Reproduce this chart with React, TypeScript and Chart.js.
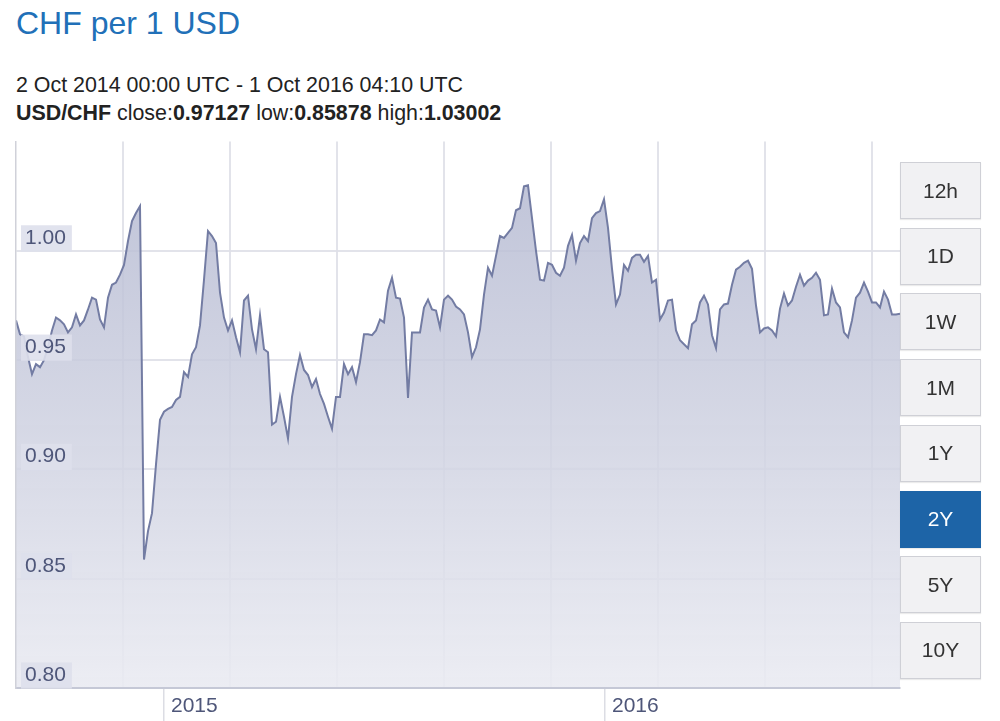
import React, { useEffect, useRef } from "react";
import { Chart, registerables } from "chart.js";

Chart.register(...registerables);

// USD/CHF close, sampled evenly from 2 Oct 2014 to 1 Oct 2016
const rates: number[] = [
  0.9682, 0.9618, 0.9609, 0.9514, 0.9436, 0.9482, 0.9468, 0.95, 0.9559, 0.9636,
  0.9695, 0.9682, 0.9664, 0.9627, 0.965, 0.9709, 0.9659, 0.9682, 0.9732, 0.9786,
  0.9777, 0.9686, 0.965, 0.9786, 0.9845, 0.9855, 0.9891, 0.9936, 1.0045, 1.0136,
  1.0173, 1.0205, 0.85878, 0.8718, 0.88, 0.9023, 0.9227, 0.9264, 0.9277, 0.9286,
  0.9318, 0.9332, 0.9445, 0.9423, 0.9527, 0.9559, 0.9659, 0.9868, 1.0091, 1.0068,
  1.0036, 0.9809, 0.9695, 0.9636, 0.9682, 0.9605, 0.9536, 0.9773, 0.9795, 0.9641,
  0.955, 0.9705, 0.955, 0.9536, 0.9205, 0.9218, 0.9332, 0.9241, 0.9141, 0.9332,
  0.9436, 0.9523, 0.9455, 0.9432, 0.9377, 0.9414, 0.9345, 0.93, 0.9241, 0.9186,
  0.9332, 0.9332, 0.9482, 0.9436, 0.9468, 0.94, 0.9491, 0.9618, 0.9618, 0.9614,
  0.9636, 0.9686, 0.9673, 0.9818, 0.9877, 0.9786, 0.9782, 0.9695, 0.9327, 0.9627,
  0.9627, 0.9627, 0.9741, 0.9777, 0.9732, 0.9727, 0.965, 0.9777, 0.9795, 0.9777,
  0.9745, 0.9732, 0.9709, 0.9627, 0.9514, 0.9559, 0.9641, 0.98, 0.9923, 0.9886,
  0.9977, 1.0068, 1.0059, 1.0082, 1.0105, 1.0186, 1.0195, 1.0295, 1.03002, 1.015,
  1.0, 0.9868, 0.9864, 0.9945, 0.9936, 0.99, 0.9886, 0.9923, 1.0023, 1.0073,
  0.9955, 1.0036, 1.0068, 1.0045, 1.015, 1.0173, 1.0182, 1.0236, 1.0105, 0.9918,
  0.9755, 0.98, 0.9936, 0.9909, 0.9968, 0.9982, 0.9982, 0.995, 0.9977, 0.9855,
  0.9868, 0.9686, 0.9718, 0.9773, 0.9777, 0.9636, 0.9591, 0.9573, 0.9555, 0.9664,
  0.9682, 0.9764, 0.9795, 0.9755, 0.9614, 0.9555, 0.9732, 0.9755, 0.9759, 0.9845,
  0.9914, 0.9927, 0.9945, 0.9955, 0.9918, 0.975, 0.9627, 0.9645, 0.965, 0.9636,
  0.9609, 0.9736, 0.9805, 0.975, 0.9773, 0.9836, 0.9891, 0.9841, 0.9864, 0.9877,
  0.99, 0.9868, 0.9705, 0.9709, 0.9827, 0.9764, 0.9741, 0.9627, 0.9605, 0.9682,
  0.9786, 0.9809, 0.9855, 0.9814, 0.9764, 0.9764, 0.9741, 0.9814, 0.9777, 0.9709,
  0.9709, 0.97127,
];

const yTickValues = [0.8, 0.85, 0.9, 0.95, 1.0];
const yMin = 0.8;
const yMax = 1.05;
const gridStep = 26.75; // spacing of vertical grid lines, in samples
const gridLineCount = 8;
const yearLabels = ["2015", "2016"];
const yearPositions = [37, 147.25]; // sample index of each year tick
const rangeButtons = ["12h", "1D", "1W", "1M", "1Y", "2Y", "5Y", "10Y"];
const activeRange = "2Y";

const FONT = '"Liberation Sans", Arial, Helvetica, sans-serif';
const GRID = "rgba(224,225,232,0.92)";

export default function App() {
  const canvasRef = useRef<HTMLCanvasElement>(null);

  useEffect(() => {
    const canvas = canvasRef.current!;
    const n = rates.length;
    const chart = new Chart(canvas, {
      type: "line",
      data: {
        labels: rates.map((_, i) => i),
        datasets: [
          {
            data: rates.map((v, i) => ({ x: i, y: v })),
            borderColor: "#737ca3",
            borderWidth: 2,
            pointRadius: 0,
            tension: 0,
            fill: "start",
            backgroundColor: (ctx: any) => {
              const { chart } = ctx;
              const area = chart.chartArea;
              if (!area) return "rgba(200,203,220,0.8)";
              const g = chart.ctx.createLinearGradient(0, area.top, 0, area.bottom);
              g.addColorStop(0, "rgba(178,183,208,0.85)");
              g.addColorStop(0.5, "rgba(205,208,224,0.85)");
              g.addColorStop(1, "rgba(234,235,242,0.9)");
              return g;
            },
          },
        ],
      },
      options: {
        animation: false,
        responsive: false,
        maintainAspectRatio: false,
        layout: { padding: { left: 16, top: 17, right: 5, bottom: 0 } },
        plugins: { legend: { display: false }, tooltip: { enabled: false } },
        scales: {
          x: {
            type: "linear",
            min: 0,
            max: n - 1,
            afterBuildTicks: (s: any) => {
              s.ticks = Array.from({ length: gridLineCount }, (_, i) => ({ value: gridStep * (i + 1) }));
            },
            afterFit: (s: any) => {
              s.height = 0;
            },
            ticks: { display: false },
            grid: { color: GRID, lineWidth: 2, drawTicks: false },
            border: { display: false },
          },
          xYear: {
            type: "linear",
            position: "bottom",
            min: 0,
            max: n - 1,
            afterBuildTicks: (s: any) => {
              s.ticks = yearPositions.map((v) => ({ value: v }));
            },
            afterFit: (s: any) => {
              s.height = 33;
            },
            ticks: {
              callback: (_v: any, i: number) => yearLabels[i] ?? "",
              align: "start",
              labelOffset: 7,
              padding: -28,
              maxRotation: 0,
              autoSkip: false,
              color: "#4e5679",
              font: { family: FONT, size: 21 },
              z: 1,
            },
            grid: { drawOnChartArea: false, tickLength: 34, color: "#dcdde4", lineWidth: 1.5 },
            border: { display: true, color: "#c5c8d6", width: 2, z: 1 },
          },
          y: {
            type: "linear",
            min: yMin,
            max: yMax,
            afterBuildTicks: (s: any) => {
              s.ticks = yTickValues.map((v) => ({ value: v }));
            },
            afterFit: (s: any) => {
              s.width = 0;
            },
            ticks: {
              mirror: true,
              padding: 9,
              labelOffset: -13,
              color: "#4e5679",
              font: { family: FONT, size: 21 },
              callback: (v: any) => Number(v).toFixed(2),
              showLabelBackdrop: true,
              backdropColor: "rgba(222,224,236,0.9)",
              backdropPadding: { left: 4, right: 6, top: 0, bottom: 1 },
              z: 2,
            },
            grid: { color: GRID, lineWidth: 2, drawTicks: false },
            border: { display: true, color: "#d0d1d9", width: 1.5, z: 1 },
          },
        },
      } as any,
    });
    return () => chart.destroy();
  }, []);

  return (
    <div
      style={{
        position: "absolute",
        left: 0,
        top: 0,
        width: 1000,
        height: 721,
        overflow: "hidden",
        background: "#fff",
        fontFamily: FONT,
      }}
    >
      <div style={{ position: "absolute", left: 16, top: 7, fontSize: 32, lineHeight: 1, color: "#2170b8" }}>
        CHF per 1 USD
      </div>
      <div style={{ position: "absolute", left: 16, top: 75, fontSize: 21.4, lineHeight: 1, color: "#222" }}>
        2 Oct 2014 00:00 UTC - 1 Oct 2016 04:10 UTC
      </div>
      <div style={{ position: "absolute", left: 16, top: 103, fontSize: 21.4, lineHeight: 1, color: "#222" }}>
        <b>USD/CHF</b> close:<b>0.97127</b> low:<b>0.85878</b> high:<b>1.03002</b>
      </div>
      <canvas
        ref={canvasRef}
        width={905}
        height={601}
        style={{ position: "absolute", left: 0, top: 120, width: 905, height: 601 }}
      />
      {rangeButtons.map((label, i) => {
        const active = label === activeRange;
        return (
          <div
            key={label}
            style={{
              position: "absolute",
              left: 900,
              top: 162 + i * 65.7,
              width: 81,
              height: 57,
              boxSizing: "border-box",
              border: `1px solid ${active ? "#1d64a7" : "#cfd0d6"}`,
              background: active ? "#1d64a7" : "#f1f1f3",
              color: active ? "#fff" : "#333",
              fontSize: 21,
              display: "flex",
              alignItems: "center",
              justifyContent: "center",
              boxShadow: "0 1px 1px rgba(0,0,0,0.08)",
            }}
          >
            {label}
          </div>
        );
      })}
    </div>
  );
}
